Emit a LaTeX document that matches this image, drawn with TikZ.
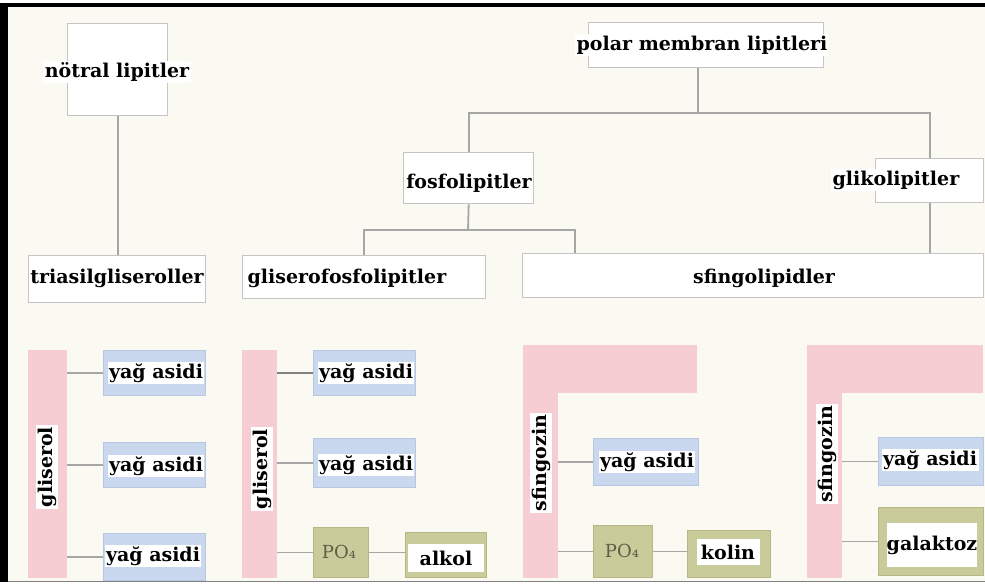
\documentclass[tikz,border=0pt]{standalone}
\usepackage{fontspec}
\newfontfamily\dvsfam{DejaVu Serif}
\newcommand\lblfont{\dvsfam\bfseries\fontsize{19}{21}\selectfont}
\newcommand\pofont{\dvsfam\fontsize{18}{20}\selectfont}
\definecolor{bgcol}{HTML}{FAFAF3}
\definecolor{boxgray}{HTML}{C4C4C4}
\definecolor{conncol}{HTML}{A6A6A6}
\definecolor{pinkf}{HTML}{F6CDD3}
\definecolor{bluef}{HTML}{C9D7EF}
\definecolor{blued}{HTML}{B8C6E0}
\definecolor{olivef}{HTML}{C9CC9A}
\definecolor{olived}{HTML}{B5B884}
\definecolor{pogray}{HTML}{5E5E48}
\begin{document}
\begin{tikzpicture}[x=1pt,y=-1pt,
  box/.style={draw=boxgray,line width=1.4pt,fill=white,inner sep=0pt,anchor=north west},
  bar/.style={fill=pinkf,draw=none,inner sep=0pt,anchor=north west},
  fa/.style={fill=bluef,draw=blued,line width=1pt,inner sep=0pt,anchor=north west},
  ol/.style={fill=olivef,draw=olived,line width=1pt,inner sep=0pt,anchor=north west},
  lbl/.style={font=\lblfont,fill=white,inner sep=1.5pt,text=black},
  po/.style={font=\pofont,text=pogray,inner sep=0pt},
  conn/.style={draw=conncol,line width=1.8pt},
]
\useasboundingbox (0,0) rectangle (985,584);
\fill[bgcol] (0,0) rectangle (985,584);
\fill[white] (0,0) rectangle (985,3);
\fill[black] (0,3) rectangle (985,7);
\fill[black] (0,3) rectangle (8,582);
\fill[white] (0,582) rectangle (985,584);
\draw[gray,line width=1pt] (8,581.5) -- (985,581.5);

% ---------- top tree boxes ----------
\node[box,minimum width=100,minimum height=92] (notralbox) at (67,23) {};
\node[box,minimum width=235,minimum height=45] (polarbox) at (588,22) {};
\node[box,minimum width=130,minimum height=51] (fosfobox) at (403,152) {};
\node[box,minimum width=108,minimum height=44] (glikobox) at (875,158) {};
\node[box,minimum width=177,minimum height=47] (triasbox) at (28,255) {};
\node[box,minimum width=243,minimum height=43] (gfosbox) at (242,255) {};
\node[box,minimum width=461,minimum height=44] (sfingobox) at (522,253) {};

% ---------- tree connectors ----------
\coordinate (j1) at (698,113);
\coordinate (j2) at (468,230);
\coordinate (s1) at (575,253);
\draw[conn] (notralbox.south) -- (notralbox.south |- triasbox.north);
\draw[conn] (polarbox.south -| j1) -- (j1);
\draw[conn] (fosfobox.north) |- (j1) -| (glikobox.north);
\draw[conn] (fosfobox.south) -- (j2);
\draw[conn] (gfosbox.north) |- (j2) -| (s1);
\draw[conn] (glikobox.south) -- (glikobox.south |- sfingobox.north);

% ---------- tree labels ----------
\node[lbl] (notral) at (117,72) {nötral lipitler};
\node[lbl] (polar) at (702,45) {polar membran lipitleri};
\node[lbl] (fosfo) at (469,183) {fosfolipitler};
\node[lbl] (gliko) at (896,180) {glikolipitler};
\node[lbl] (trias) at (117,278) {triasilgliseroller};
\node[lbl] (gfos) at (347,278) {gliserofosfolipitler};
\node[lbl] (sfingo) at (764,278) {sfingolipidler};

% ---------- bottom: backbones ----------
\node[bar,minimum width=39,minimum height=228] (bar1) at (28,350) {};
\node[bar,minimum width=35,minimum height=228] (bar2) at (242,350) {};
\node[bar,minimum width=35,minimum height=233] (bar3) at (523,345) {};
\node[bar,minimum width=174,minimum height=48] (arm3) at (523,345) {};
\node[bar,minimum width=35,minimum height=233] (bar4) at (807,345) {};
\node[bar,minimum width=176,minimum height=48] (arm4) at (807,345) {};

% ---------- bottom: groups ----------
\node[fa,minimum width=102,minimum height=45] (fa11) at (103,350) {};
\node[fa,minimum width=102,minimum height=45] (fa12) at (103,442) {};
\node[fa,minimum width=102,minimum height=47] (fa13) at (103,533) {};
\node[fa,minimum width=102,minimum height=45] (fa21) at (313,350) {};
\node[fa,minimum width=102,minimum height=49] (fa22) at (313,438) {};
\node[ol,minimum width=55,minimum height=50] (po2) at (313,527) {};
\node[ol,minimum width=81,minimum height=45] (alkolbox) at (405,532) {};
\node[fa,minimum width=105,minimum height=47] (fa3) at (593,438) {};
\node[ol,minimum width=59,minimum height=52] (po3) at (593,525) {};
\node[ol,minimum width=83,minimum height=47] (kolinbox) at (687,530) {};
\node[fa,minimum width=105,minimum height=48] (fa4) at (878,437) {};
\node[ol,minimum width=105,minimum height=68] (galbox) at (878,507) {};

% ---------- bottom connectors ----------
\draw[conn] (bar1.east |- fa11.west) -- (fa11.west);
\draw[conn] (bar1.east |- fa12.west) -- (fa12.west);
\draw[conn] (bar1.east |- fa13.west) -- (fa13.west);
\draw[conn,draw=gray,line width=2.4pt] (bar2.east |- fa21.west) -- (fa21.west);
\draw[conn] (bar2.east |- fa22.west) -- (fa22.west);
\draw[conn] (bar2.east |- po2.west) -- (po2.west);
\draw[conn] (po2.east) -- (po2.east -| alkolbox.west);
\draw[conn] (bar3.east |- fa3.west) -- (fa3.west);
\draw[conn] (bar3.east |- po3.west) -- (po3.west);
\draw[conn] (po3.east) -- (po3.east -| kolinbox.west);
\draw[conn] (bar4.east |- fa4.west) -- (fa4.west);
\draw[conn] (bar4.east |- galbox.west) -- (galbox.west);

% ---------- bottom labels ----------
\node[lbl,rotate=90] (gl1) at (47,467) {gliserol};
\node[lbl,rotate=90] (gl2) at (262,469) {gliserol};
\node[lbl,rotate=90] (sf3) at (541,463) {sfingozin};
\node[lbl,rotate=90] (sf4) at (827,454) {sfingozin};
\node[lbl] (t11) at (156,373) {yağ asidi};
\node[lbl] (t12) at (156,466) {yağ asidi};
\node[lbl] (t13) at (153,556) {yağ asidi};
\node[lbl] (t21) at (366,373) {yağ asidi};
\node[lbl] (t22) at (366,465) {yağ asidi};
\node[lbl] (t3) at (647,462) {yağ asidi};
\node[lbl] (t4) at (930,460) {yağ asidi};
\node[po] (p2) at (339,552) {PO₄};
\node[po] (p3) at (622,551) {PO₄};
\node[lbl,minimum width=76,minimum height=28,inner sep=0pt] (alkol) at (446,558) {alkol};
\node[lbl,minimum width=63,minimum height=26,inner sep=0pt] (kolin) at (728,552) {kolin};
\node[lbl,minimum width=89,minimum height=44,inner sep=0pt] (galaktoz) at (932,545) {galaktoz};
\end{tikzpicture}
\end{document}
